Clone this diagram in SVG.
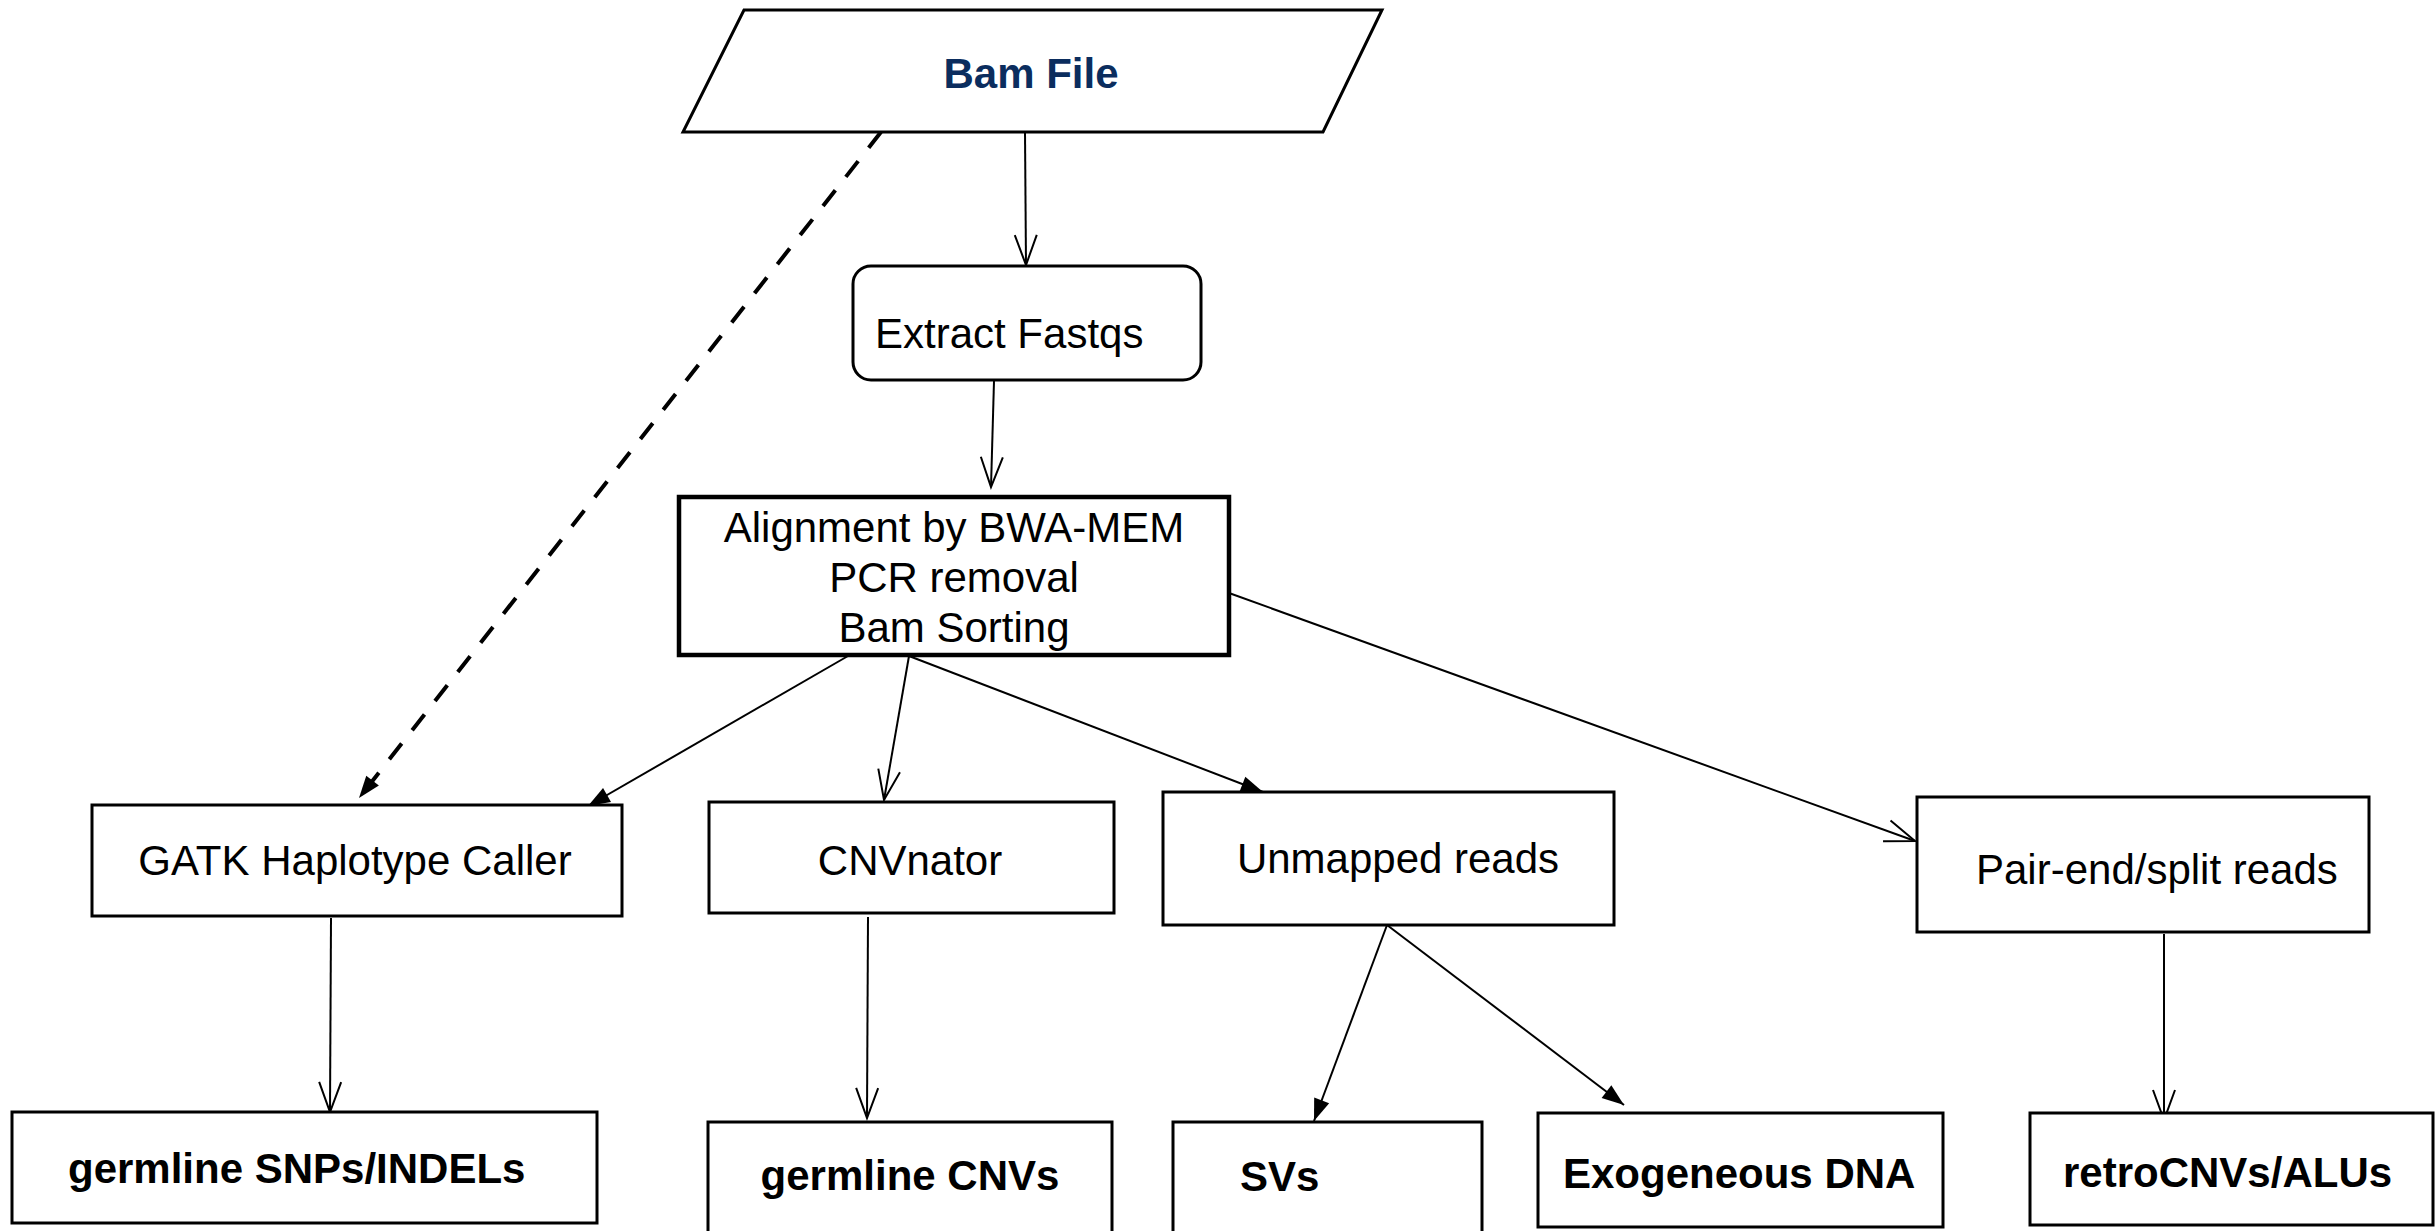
<svg xmlns="http://www.w3.org/2000/svg" width="2436" height="1231" viewBox="0 0 2436 1231">
<style>
.box{fill:#fff;stroke:#000;stroke-width:3}
.t{font-family:"Liberation Sans",Arial,Helvetica,sans-serif;font-size:42px;fill:#000}
.b{font-weight:bold}
.c{text-anchor:middle}
.ln{stroke:#000;stroke-width:2;fill:none}
</style>
<defs>
<marker id="open" markerUnits="userSpaceOnUse" markerWidth="34" markerHeight="26" refX="30" refY="11" orient="auto" overflow="visible">
<path d="M0,0 L30,11 L0,22" fill="none" stroke="#000" stroke-width="2"/>
</marker>
<marker id="fill" markerUnits="userSpaceOnUse" markerWidth="24" markerHeight="18" refX="22" refY="8" orient="auto" overflow="visible">
<path d="M0,0 L22,8 L0,16 z" fill="#000"/>
</marker>
</defs>
<rect width="2436" height="1231" fill="#fff"/>
<g id="connectors">
<line class="ln" x1="1025" y1="132" x2="1026" y2="265" marker-end="url(#open)"/>
<line class="ln" x1="994" y1="381" x2="991" y2="487" marker-end="url(#open)"/>
<line x1="881" y1="132" x2="359" y2="798" stroke="#000" stroke-width="4" stroke-dasharray="20 17" marker-end="url(#fill)"/>
<line class="ln" x1="848" y1="656" x2="588" y2="806" marker-end="url(#fill)"/>
<line class="ln" x1="909" y1="656" x2="884" y2="800" marker-end="url(#open)"/>
<line class="ln" x1="909" y1="656" x2="1263" y2="792" marker-end="url(#fill)"/>
<line class="ln" x1="1229" y1="593" x2="1915" y2="841" marker-end="url(#open)"/>
<line class="ln" x1="331" y1="918" x2="330" y2="1112" marker-end="url(#open)"/>
<line class="ln" x1="868" y1="917" x2="867" y2="1118" marker-end="url(#open)"/>
<line class="ln" x1="1387" y1="925" x2="1314" y2="1121" marker-end="url(#fill)"/>
<line class="ln" x1="1387" y1="925" x2="1624" y2="1105" marker-end="url(#fill)"/>
<line class="ln" x1="2164" y1="934" x2="2164" y2="1120" marker-end="url(#open)"/>
</g>
<g id="bam-file">
<polygon class="box" points="744,10 1382,10 1323,132 683,132"/>
<text class="t b c" x="1031" y="88" fill="#0b2d5e" style="fill:#0b2d5e">Bam File</text>
</g>
<g id="extract-fastqs">
<rect class="box" x="853" y="266" width="348" height="114" rx="18"/>
<text class="t" x="875" y="348">Extract Fastqs</text>
</g>
<g id="alignment">
<rect class="box" x="679" y="497" width="550" height="158" style="stroke-width:4.5"/>
<text class="t c" x="954" y="542">Alignment by BWA-MEM</text>
<text class="t c" x="954" y="592">PCR removal</text>
<text class="t c" x="954" y="642">Bam Sorting</text>
</g>
<g id="gatk">
<rect class="box" x="92" y="805" width="530" height="111"/>
<text class="t c" x="355" y="875">GATK Haplotype Caller</text>
</g>
<g id="cnvnator">
<rect class="box" x="709" y="802" width="405" height="111"/>
<text class="t c" x="910" y="875">CNVnator</text>
</g>
<g id="unmapped">
<rect class="box" x="1163" y="792" width="451" height="133"/>
<text class="t c" x="1398" y="873">Unmapped reads</text>
</g>
<g id="pair-end">
<rect class="box" x="1917" y="797" width="452" height="135"/>
<text class="t" x="1976" y="884">Pair-end/split reads</text>
</g>
<g id="germline-snps">
<rect class="box" x="12" y="1112" width="585" height="111"/>
<text class="t b" x="68" y="1183">germline SNPs/INDELs</text>
</g>
<g id="germline-cnvs">
<rect class="box" x="708" y="1122" width="404" height="120"/>
<text class="t b c" x="910" y="1190">germline CNVs</text>
</g>
<g id="svs">
<rect class="box" x="1173" y="1122" width="309" height="120"/>
<text class="t b" x="1240" y="1191">SVs</text>
</g>
<g id="exogeneous">
<rect class="box" x="1538" y="1113" width="405" height="114"/>
<text class="t b" x="1563" y="1188">Exogeneous DNA</text>
</g>
<g id="retro">
<rect class="box" x="2030" y="1113" width="403" height="112"/>
<text class="t b" x="2063" y="1187">retroCNVs/ALUs</text>
</g>
</svg>
